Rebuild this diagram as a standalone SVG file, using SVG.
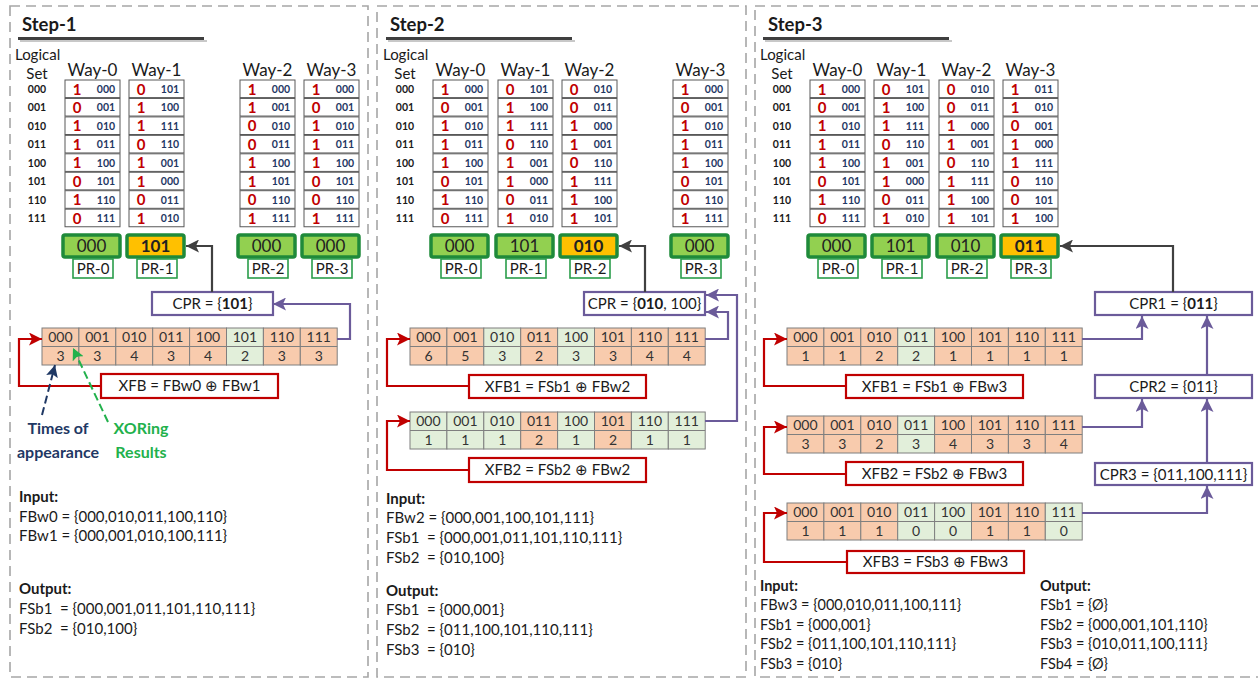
<svg xmlns="http://www.w3.org/2000/svg" xmlns:xlink="http://www.w3.org/1999/xlink" width="1258" height="679" viewBox="0 0 1258 679">
<style>
text { font-family: Lato, 'Noto Sans', sans-serif; fill:#1a1a1a; }
.pf { fill:none; stroke:#a6a6a6; stroke-width:1.6; stroke-dasharray:10 6; }
.ttl { font-size:18.5px; font-weight:bold; }
.lbl { font-size:15px; }
.way { font-size:17px; text-anchor:middle; }
.ls { font-size:10.5px; font-weight:bold; text-anchor:middle; }
.cell { fill:#fff; stroke:#595959; stroke-width:1; }
.b { font-size:15px; font-weight:bold; fill:#c00000; text-anchor:middle; }
.t { font-size:10.5px; font-weight:bold; fill:#1f3864; text-anchor:middle; }
.pr { fill:#92d050; stroke:#1f8a3a; stroke-width:3.5; }
.pry { fill:#ffc000; stroke:#1f8a3a; stroke-width:3.5; }
.prt { font-size:17px; text-anchor:middle; fill:#222; }
.prl { fill:#fff; stroke:#2a9d4a; stroke-width:1.6; }
.prlt { font-size:15px; text-anchor:middle; }
.o { fill:#f8cbad; stroke:#7f7f7f; stroke-width:1; }
.g { fill:#e2efda; stroke:#7f7f7f; stroke-width:1; }
.gl { stroke:#7f7f7f; stroke-width:1; }
.ct { font-size:14px; text-anchor:middle; fill:#333; }
.rb { fill:#fff; stroke:#c00000; stroke-width:2.2; }
.pb { fill:#fff; stroke:#6b5b9a; stroke-width:2.2; }
.bt { font-size:15px; text-anchor:middle; }
.io { font-size:15px; white-space:pre; }
.iob { font-size:15px; font-weight:bold; }
.io3 { font-size:14.5px; white-space:pre; }
.iob3 { font-size:14.5px; font-weight:bold; }
.nt { font-size:16px; font-weight:bold; text-anchor:middle; }
.cr { fill:none; stroke:#c00000; stroke-width:2.2; }
.cp { fill:none; stroke:#6b5b9a; stroke-width:2.2; }
.cg { fill:none; stroke:#404040; stroke-width:2.2; }
.ul { stroke:#3f3f3f; stroke-width:3; }
.uls { stroke:#c8c8c8; stroke-width:2; }
</style>
<defs>
<marker id="ar" viewBox="0 0 13 13" refX="13" refY="6.5" markerWidth="13" markerHeight="13" orient="auto" markerUnits="userSpaceOnUse"><path d="M0,0 L13,6.5 L0,13 L3,6.5 z" fill="#c00000"/></marker>
<marker id="ap" viewBox="0 0 13 13" refX="13" refY="6.5" markerWidth="13" markerHeight="13" orient="auto" markerUnits="userSpaceOnUse"><path d="M0,0 L13,6.5 L0,13 L3,6.5 z" fill="#6b5b9a"/></marker>
<marker id="ag" viewBox="0 0 13 13" refX="13" refY="6.5" markerWidth="13" markerHeight="13" orient="auto" markerUnits="userSpaceOnUse"><path d="M0,0 L13,6.5 L0,13 L3,6.5 z" fill="#404040"/></marker>
<marker id="an" viewBox="0 0 12 12" refX="12" refY="6" markerWidth="12" markerHeight="12" orient="auto" markerUnits="userSpaceOnUse"><path d="M0,0 L12,6 L0,12 L2.5,6 z" fill="#1f3864"/></marker>
<marker id="agr" viewBox="0 0 12 12" refX="12" refY="6" markerWidth="12" markerHeight="12" orient="auto" markerUnits="userSpaceOnUse"><path d="M0,0 L12,6 L0,12 L2.5,6 z" fill="#22b14c"/></marker>
<g id="colbox">
<rect class="cell" x="0" y="0" width="55" height="17.6"/>
<rect class="cell" x="0" y="18.45" width="55" height="17.6"/>
<rect class="cell" x="0" y="36.9" width="55" height="17.6"/>
<rect class="cell" x="0" y="55.35" width="55" height="17.6"/>
<rect class="cell" x="0" y="73.8" width="55" height="17.6"/>
<rect class="cell" x="0" y="92.25" width="55" height="17.6"/>
<rect class="cell" x="0" y="110.7" width="55" height="17.6"/>
<rect class="cell" x="0" y="129.15" width="55" height="17.6"/>
</g>
</defs>

<!-- panels -->
<g id="panels">
<rect class="pf" x="10" y="6" width="358" height="671"/>
<rect class="pf" x="377" y="6" width="369" height="671"/>
<rect class="pf" x="755" y="6" width="512" height="671"/>
</g>

<!-- titles -->
<g id="titles">
<line class="uls" x1="20" y1="41" x2="207" y2="41"/>
<line class="ul" x1="18" y1="38.5" x2="204" y2="38.5"/>
<text class="ttl" x="22" y="31">Step-1</text>
<line class="uls" x1="388" y1="41" x2="575" y2="41"/>
<line class="ul" x1="386" y1="38.5" x2="572" y2="38.5"/>
<text class="ttl" x="390" y="31">Step-2</text>
<line class="uls" x1="765" y1="41" x2="952" y2="41"/>
<line class="ul" x1="763" y1="38.5" x2="949" y2="38.5"/>
<text class="ttl" x="768" y="31">Step-3</text>
</g>

<!-- ================= STEP 1 ================= -->
<g id="s1-sets">
<text class="lbl" x="15" y="60">Logical</text>
<text class="lbl" x="37" y="79" text-anchor="middle">Set</text>
<text class="ls"><tspan x="37" y="93">000</tspan><tspan x="37" y="111.45">001</tspan><tspan x="37" y="129.9">010</tspan><tspan x="37" y="148.35">011</tspan><tspan x="37" y="166.8">100</tspan><tspan x="37" y="185.25">101</tspan><tspan x="37" y="203.7">110</tspan><tspan x="37" y="222.15">111</tspan></text>
</g>
<g id="s1-way0" transform="translate(65,80)">
<text class="way" x="27.5" y="-4">Way-0</text>
<use href="#colbox"/>
<text class="b"><tspan x="12" y="14.5">1</tspan><tspan x="12" y="32.95">0</tspan><tspan x="12" y="51.4">1</tspan><tspan x="12" y="69.85">1</tspan><tspan x="12" y="88.3">1</tspan><tspan x="12" y="106.75">0</tspan><tspan x="12" y="125.2">1</tspan><tspan x="12" y="143.65">0</tspan></text>
<text class="t"><tspan x="41" y="12.8">000</tspan><tspan x="41" y="31.25">001</tspan><tspan x="41" y="49.7">010</tspan><tspan x="41" y="68.15">011</tspan><tspan x="41" y="86.6">100</tspan><tspan x="41" y="105.05">101</tspan><tspan x="41" y="123.5">110</tspan><tspan x="41" y="141.95">111</tspan></text>
</g>
<g id="s1-way1" transform="translate(129,80)">
<text class="way" x="27.5" y="-4">Way-1</text>
<use href="#colbox"/>
<text class="b"><tspan x="12" y="14.5">0</tspan><tspan x="12" y="32.95">1</tspan><tspan x="12" y="51.4">1</tspan><tspan x="12" y="69.85">0</tspan><tspan x="12" y="88.3">1</tspan><tspan x="12" y="106.75">1</tspan><tspan x="12" y="125.2">0</tspan><tspan x="12" y="143.65">1</tspan></text>
<text class="t"><tspan x="41" y="12.8">101</tspan><tspan x="41" y="31.25">100</tspan><tspan x="41" y="49.7">111</tspan><tspan x="41" y="68.15">110</tspan><tspan x="41" y="86.6">001</tspan><tspan x="41" y="105.05">000</tspan><tspan x="41" y="123.5">011</tspan><tspan x="41" y="141.95">010</tspan></text>
</g>
<g id="s1-way2" transform="translate(240,80)">
<text class="way" x="27.5" y="-4">Way-2</text>
<use href="#colbox"/>
<text class="b"><tspan x="12" y="14.5">1</tspan><tspan x="12" y="32.95">1</tspan><tspan x="12" y="51.4">0</tspan><tspan x="12" y="69.85">0</tspan><tspan x="12" y="88.3">1</tspan><tspan x="12" y="106.75">1</tspan><tspan x="12" y="125.2">0</tspan><tspan x="12" y="143.65">1</tspan></text>
<text class="t"><tspan x="41" y="12.8">000</tspan><tspan x="41" y="31.25">001</tspan><tspan x="41" y="49.7">010</tspan><tspan x="41" y="68.15">011</tspan><tspan x="41" y="86.6">100</tspan><tspan x="41" y="105.05">101</tspan><tspan x="41" y="123.5">110</tspan><tspan x="41" y="141.95">111</tspan></text>
</g>
<g id="s1-way3" transform="translate(304,80)">
<text class="way" x="27.5" y="-4">Way-3</text>
<use href="#colbox"/>
<text class="b"><tspan x="12" y="14.5">1</tspan><tspan x="12" y="32.95">0</tspan><tspan x="12" y="51.4">1</tspan><tspan x="12" y="69.85">1</tspan><tspan x="12" y="88.3">1</tspan><tspan x="12" y="106.75">0</tspan><tspan x="12" y="125.2">0</tspan><tspan x="12" y="143.65">1</tspan></text>
<text class="t"><tspan x="41" y="12.8">000</tspan><tspan x="41" y="31.25">001</tspan><tspan x="41" y="49.7">010</tspan><tspan x="41" y="68.15">011</tspan><tspan x="41" y="86.6">100</tspan><tspan x="41" y="105.05">101</tspan><tspan x="41" y="123.5">110</tspan><tspan x="41" y="141.95">111</tspan></text>
</g>
<g id="s1-pr0"><rect class="pr" x="63" y="235" width="57" height="22" rx="2"/><text class="prt" x="91.5" y="252">000</text><rect class="prl" x="73" y="259" width="40" height="19"/><text class="prlt" x="93" y="274">PR-0</text></g>
<g id="s1-pr1"><rect class="pry" x="127" y="235" width="57" height="22" rx="2"/><text class="prt" x="155.5" y="252" font-weight="bold">101</text><rect class="prl" x="137" y="259" width="40" height="19"/><text class="prlt" x="157" y="274">PR-1</text></g>
<g id="s1-pr2"><rect class="pr" x="238" y="235" width="57" height="22" rx="2"/><text class="prt" x="266.5" y="252">000</text><rect class="prl" x="248" y="259" width="40" height="19"/><text class="prlt" x="268" y="274">PR-2</text></g>
<g id="s1-pr3"><rect class="pr" x="302" y="235" width="57" height="22" rx="2"/><text class="prt" x="330.5" y="252">000</text><rect class="prl" x="312" y="259" width="40" height="19"/><text class="prlt" x="332" y="274">PR-3</text></g>
<g id="s1-cpr"><rect class="pb" x="152" y="292" width="121" height="23"/><text class="bt" x="212.5" y="309">CPR = {<tspan font-weight="bold">101</tspan>}</text></g>
<g id="s1-table" transform="translate(42,328)">
<rect class="o" x="0" y="0" width="36.9" height="37"/><rect class="o" x="36.9" y="0" width="36.9" height="37"/><rect class="o" x="73.8" y="0" width="36.9" height="37"/><rect class="o" x="110.7" y="0" width="36.9" height="37"/><rect class="o" x="147.6" y="0" width="36.9" height="37"/><rect class="g" x="184.5" y="0" width="36.9" height="37"/><rect class="o" x="221.4" y="0" width="36.9" height="37"/><rect class="o" x="258.3" y="0" width="36.9" height="37"/>
<line class="gl" x1="0" y1="18.5" x2="295.2" y2="18.5"/>
<text class="ct"><tspan x="18.45" y="14">000</tspan><tspan x="55.35" y="14">001</tspan><tspan x="92.25" y="14">010</tspan><tspan x="129.15" y="14">011</tspan><tspan x="166.05" y="14">100</tspan><tspan x="202.95" y="14">101</tspan><tspan x="239.85" y="14">110</tspan><tspan x="276.75" y="14">111</tspan></text>
<text class="ct"><tspan x="18.45" y="32.5">3</tspan><tspan x="55.35" y="32.5">3</tspan><tspan x="92.25" y="32.5">4</tspan><tspan x="129.15" y="32.5">3</tspan><tspan x="166.05" y="32.5">4</tspan><tspan x="202.95" y="32.5">2</tspan><tspan x="239.85" y="32.5">3</tspan><tspan x="276.75" y="32.5">3</tspan></text>
</g>
<g id="s1-xfb"><rect class="rb" x="101" y="374" width="177" height="24"/><text class="bt" x="189.5" y="391">XFB = FBw0 ⊕ FBw1</text></g>
<g id="s1-notes">
<text class="nt" x="58" y="434" style="fill:#1f3864">Times of</text>
<text class="nt" x="58" y="458" style="fill:#1f3864">appearance</text>
<text class="nt" x="141" y="434" style="fill:#22b14c">XORing</text>
<text class="nt" x="141" y="458" style="fill:#22b14c">Results</text>
</g>
<g id="s1-io">
<text class="iob" x="19" y="502">Input:</text>
<text class="io" x="19" y="522">FBw0 = {000,010,011,100,110}</text>
<text class="io" x="19" y="541">FBw1 = {000,001,010,100,111}</text>
<text class="iob" x="19" y="594">Output:</text>
<text class="io" x="19" y="614">FSb1  = {000,001,011,101,110,111}</text>
<text class="io" x="19" y="634">FSb2  = {010,100}</text>
</g>

<!-- ================= STEP 2 ================= -->
<g id="s2-sets">
<text class="lbl" x="383" y="60">Logical</text>
<text class="lbl" x="405" y="79" text-anchor="middle">Set</text>
<text class="ls"><tspan x="405" y="93">000</tspan><tspan x="405" y="111.45">001</tspan><tspan x="405" y="129.9">010</tspan><tspan x="405" y="148.35">011</tspan><tspan x="405" y="166.8">100</tspan><tspan x="405" y="185.25">101</tspan><tspan x="405" y="203.7">110</tspan><tspan x="405" y="222.15">111</tspan></text>
</g>
<g id="s2-way0" transform="translate(433,80)">
<text class="way" x="27.5" y="-4">Way-0</text>
<use href="#colbox"/>
<text class="b"><tspan x="12" y="14.5">1</tspan><tspan x="12" y="32.95">0</tspan><tspan x="12" y="51.4">1</tspan><tspan x="12" y="69.85">1</tspan><tspan x="12" y="88.3">1</tspan><tspan x="12" y="106.75">0</tspan><tspan x="12" y="125.2">1</tspan><tspan x="12" y="143.65">0</tspan></text>
<text class="t"><tspan x="41" y="12.8">000</tspan><tspan x="41" y="31.25">001</tspan><tspan x="41" y="49.7">010</tspan><tspan x="41" y="68.15">011</tspan><tspan x="41" y="86.6">100</tspan><tspan x="41" y="105.05">101</tspan><tspan x="41" y="123.5">110</tspan><tspan x="41" y="141.95">111</tspan></text>
</g>
<g id="s2-way1" transform="translate(498,80)">
<text class="way" x="27.5" y="-4">Way-1</text>
<use href="#colbox"/>
<text class="b"><tspan x="12" y="14.5">0</tspan><tspan x="12" y="32.95">1</tspan><tspan x="12" y="51.4">1</tspan><tspan x="12" y="69.85">0</tspan><tspan x="12" y="88.3">1</tspan><tspan x="12" y="106.75">1</tspan><tspan x="12" y="125.2">0</tspan><tspan x="12" y="143.65">1</tspan></text>
<text class="t"><tspan x="41" y="12.8">101</tspan><tspan x="41" y="31.25">100</tspan><tspan x="41" y="49.7">111</tspan><tspan x="41" y="68.15">110</tspan><tspan x="41" y="86.6">001</tspan><tspan x="41" y="105.05">000</tspan><tspan x="41" y="123.5">011</tspan><tspan x="41" y="141.95">010</tspan></text>
</g>
<g id="s2-way2" transform="translate(562,80)">
<text class="way" x="27.5" y="-4">Way-2</text>
<use href="#colbox"/>
<text class="b"><tspan x="12" y="14.5">0</tspan><tspan x="12" y="32.95">0</tspan><tspan x="12" y="51.4">1</tspan><tspan x="12" y="69.85">1</tspan><tspan x="12" y="88.3">0</tspan><tspan x="12" y="106.75">1</tspan><tspan x="12" y="125.2">1</tspan><tspan x="12" y="143.65">1</tspan></text>
<text class="t"><tspan x="41" y="12.8">010</tspan><tspan x="41" y="31.25">011</tspan><tspan x="41" y="49.7">000</tspan><tspan x="41" y="68.15">001</tspan><tspan x="41" y="86.6">110</tspan><tspan x="41" y="105.05">111</tspan><tspan x="41" y="123.5">100</tspan><tspan x="41" y="141.95">101</tspan></text>
</g>
<g id="s2-way3" transform="translate(673,80)">
<text class="way" x="27.5" y="-4">Way-3</text>
<use href="#colbox"/>
<text class="b"><tspan x="12" y="14.5">1</tspan><tspan x="12" y="32.95">0</tspan><tspan x="12" y="51.4">1</tspan><tspan x="12" y="69.85">1</tspan><tspan x="12" y="88.3">1</tspan><tspan x="12" y="106.75">0</tspan><tspan x="12" y="125.2">0</tspan><tspan x="12" y="143.65">1</tspan></text>
<text class="t"><tspan x="41" y="12.8">000</tspan><tspan x="41" y="31.25">001</tspan><tspan x="41" y="49.7">010</tspan><tspan x="41" y="68.15">011</tspan><tspan x="41" y="86.6">100</tspan><tspan x="41" y="105.05">101</tspan><tspan x="41" y="123.5">110</tspan><tspan x="41" y="141.95">111</tspan></text>
</g>
<g id="s2-pr0"><rect class="pr" x="431" y="235" width="57" height="22" rx="2"/><text class="prt" x="459.5" y="252">000</text><rect class="prl" x="441" y="259" width="40" height="19"/><text class="prlt" x="461" y="274">PR-0</text></g>
<g id="s2-pr1"><rect class="pr" x="496" y="235" width="57" height="22" rx="2"/><text class="prt" x="524.5" y="252">101</text><rect class="prl" x="506" y="259" width="40" height="19"/><text class="prlt" x="526" y="274">PR-1</text></g>
<g id="s2-pr2"><rect class="pry" x="560" y="235" width="57" height="22" rx="2"/><text class="prt" x="588.5" y="252" font-weight="bold">010</text><rect class="prl" x="570" y="259" width="40" height="19"/><text class="prlt" x="590" y="274">PR-2</text></g>
<g id="s2-pr3"><rect class="pr" x="671" y="235" width="57" height="22" rx="2"/><text class="prt" x="699.5" y="252">000</text><rect class="prl" x="681" y="259" width="40" height="19"/><text class="prlt" x="701" y="274">PR-3</text></g>
<g id="s2-cpr"><rect class="pb" x="584" y="292" width="121" height="23"/><text class="bt" x="644.5" y="309">CPR = {<tspan font-weight="bold">010</tspan>, 100}</text></g>
<g id="s2-table1" transform="translate(410,328)">
<rect class="o" x="0" y="0" width="36.9" height="37"/><rect class="o" x="36.9" y="0" width="36.9" height="37"/><rect class="g" x="73.8" y="0" width="36.9" height="37"/><rect class="o" x="110.7" y="0" width="36.9" height="37"/><rect class="g" x="147.6" y="0" width="36.9" height="37"/><rect class="o" x="184.5" y="0" width="36.9" height="37"/><rect class="o" x="221.4" y="0" width="36.9" height="37"/><rect class="o" x="258.3" y="0" width="36.9" height="37"/>
<line class="gl" x1="0" y1="18.5" x2="295.2" y2="18.5"/>
<text class="ct"><tspan x="18.45" y="14">000</tspan><tspan x="55.35" y="14">001</tspan><tspan x="92.25" y="14">010</tspan><tspan x="129.15" y="14">011</tspan><tspan x="166.05" y="14">100</tspan><tspan x="202.95" y="14">101</tspan><tspan x="239.85" y="14">110</tspan><tspan x="276.75" y="14">111</tspan></text>
<text class="ct"><tspan x="18.45" y="32.5">6</tspan><tspan x="55.35" y="32.5">5</tspan><tspan x="92.25" y="32.5">3</tspan><tspan x="129.15" y="32.5">2</tspan><tspan x="166.05" y="32.5">3</tspan><tspan x="202.95" y="32.5">3</tspan><tspan x="239.85" y="32.5">4</tspan><tspan x="276.75" y="32.5">4</tspan></text>
</g>
<g id="s2-xfb1"><rect class="rb" x="469" y="375" width="177" height="23"/><text class="bt" x="557.5" y="391.5">XFB1 = FSb1 ⊕ FBw2</text></g>
<g id="s2-table2" transform="translate(410,412)">
<rect class="g" x="0" y="0" width="36.9" height="37"/><rect class="g" x="36.9" y="0" width="36.9" height="37"/><rect class="g" x="73.8" y="0" width="36.9" height="37"/><rect class="o" x="110.7" y="0" width="36.9" height="37"/><rect class="g" x="147.6" y="0" width="36.9" height="37"/><rect class="o" x="184.5" y="0" width="36.9" height="37"/><rect class="g" x="221.4" y="0" width="36.9" height="37"/><rect class="g" x="258.3" y="0" width="36.9" height="37"/>
<line class="gl" x1="0" y1="18.5" x2="295.2" y2="18.5"/>
<text class="ct"><tspan x="18.45" y="14">000</tspan><tspan x="55.35" y="14">001</tspan><tspan x="92.25" y="14">010</tspan><tspan x="129.15" y="14">011</tspan><tspan x="166.05" y="14">100</tspan><tspan x="202.95" y="14">101</tspan><tspan x="239.85" y="14">110</tspan><tspan x="276.75" y="14">111</tspan></text>
<text class="ct"><tspan x="18.45" y="32.5">1</tspan><tspan x="55.35" y="32.5">1</tspan><tspan x="92.25" y="32.5">1</tspan><tspan x="129.15" y="32.5">2</tspan><tspan x="166.05" y="32.5">1</tspan><tspan x="202.95" y="32.5">2</tspan><tspan x="239.85" y="32.5">1</tspan><tspan x="276.75" y="32.5">1</tspan></text>
</g>
<g id="s2-xfb2"><rect class="rb" x="469" y="458" width="177" height="24"/><text class="bt" x="557.5" y="475">XFB2 = FSb2 ⊕ FBw2</text></g>
<g id="s2-io">
<text class="iob" x="386" y="504">Input:</text>
<text class="io" x="386" y="523">FBw2 = {000,001,100,101,111}</text>
<text class="io" x="386" y="543">FSb1  = {000,001,011,101,110,111}</text>
<text class="io" x="386" y="563">FSb2  = {010,100}</text>
<text class="iob" x="386" y="596">Output:</text>
<text class="io" x="386" y="615">FSb1  = {000,001}</text>
<text class="io" x="386" y="635">FSb2  = {011,100,101,110,111}</text>
<text class="io" x="386" y="655">FSb3  = {010}</text>
</g>

<!-- ================= STEP 3 ================= -->
<g id="s3-sets">
<text class="lbl" x="760" y="60">Logical</text>
<text class="lbl" x="782" y="79" text-anchor="middle">Set</text>
<text class="ls"><tspan x="782" y="93">000</tspan><tspan x="782" y="111.45">001</tspan><tspan x="782" y="129.9">010</tspan><tspan x="782" y="148.35">011</tspan><tspan x="782" y="166.8">100</tspan><tspan x="782" y="185.25">101</tspan><tspan x="782" y="203.7">110</tspan><tspan x="782" y="222.15">111</tspan></text>
</g>
<g id="s3-way0" transform="translate(810,80)">
<text class="way" x="27.5" y="-4">Way-0</text>
<use href="#colbox"/>
<text class="b"><tspan x="12" y="14.5">1</tspan><tspan x="12" y="32.95">0</tspan><tspan x="12" y="51.4">1</tspan><tspan x="12" y="69.85">1</tspan><tspan x="12" y="88.3">1</tspan><tspan x="12" y="106.75">0</tspan><tspan x="12" y="125.2">1</tspan><tspan x="12" y="143.65">0</tspan></text>
<text class="t"><tspan x="41" y="12.8">000</tspan><tspan x="41" y="31.25">001</tspan><tspan x="41" y="49.7">010</tspan><tspan x="41" y="68.15">011</tspan><tspan x="41" y="86.6">100</tspan><tspan x="41" y="105.05">101</tspan><tspan x="41" y="123.5">110</tspan><tspan x="41" y="141.95">111</tspan></text>
</g>
<g id="s3-way1" transform="translate(874,80)">
<text class="way" x="27.5" y="-4">Way-1</text>
<use href="#colbox"/>
<text class="b"><tspan x="12" y="14.5">0</tspan><tspan x="12" y="32.95">1</tspan><tspan x="12" y="51.4">1</tspan><tspan x="12" y="69.85">0</tspan><tspan x="12" y="88.3">1</tspan><tspan x="12" y="106.75">1</tspan><tspan x="12" y="125.2">0</tspan><tspan x="12" y="143.65">1</tspan></text>
<text class="t"><tspan x="41" y="12.8">101</tspan><tspan x="41" y="31.25">100</tspan><tspan x="41" y="49.7">111</tspan><tspan x="41" y="68.15">110</tspan><tspan x="41" y="86.6">001</tspan><tspan x="41" y="105.05">000</tspan><tspan x="41" y="123.5">011</tspan><tspan x="41" y="141.95">010</tspan></text>
</g>
<g id="s3-way2" transform="translate(939,80)">
<text class="way" x="27.5" y="-4">Way-2</text>
<use href="#colbox"/>
<text class="b"><tspan x="12" y="14.5">0</tspan><tspan x="12" y="32.95">0</tspan><tspan x="12" y="51.4">1</tspan><tspan x="12" y="69.85">1</tspan><tspan x="12" y="88.3">0</tspan><tspan x="12" y="106.75">1</tspan><tspan x="12" y="125.2">1</tspan><tspan x="12" y="143.65">1</tspan></text>
<text class="t"><tspan x="41" y="12.8">010</tspan><tspan x="41" y="31.25">011</tspan><tspan x="41" y="49.7">000</tspan><tspan x="41" y="68.15">001</tspan><tspan x="41" y="86.6">110</tspan><tspan x="41" y="105.05">111</tspan><tspan x="41" y="123.5">100</tspan><tspan x="41" y="141.95">101</tspan></text>
</g>
<g id="s3-way3" transform="translate(1003,80)">
<text class="way" x="27.5" y="-4">Way-3</text>
<use href="#colbox"/>
<text class="b"><tspan x="12" y="14.5">1</tspan><tspan x="12" y="32.95">1</tspan><tspan x="12" y="51.4">0</tspan><tspan x="12" y="69.85">1</tspan><tspan x="12" y="88.3">1</tspan><tspan x="12" y="106.75">0</tspan><tspan x="12" y="125.2">0</tspan><tspan x="12" y="143.65">1</tspan></text>
<text class="t"><tspan x="41" y="12.8">011</tspan><tspan x="41" y="31.25">010</tspan><tspan x="41" y="49.7">001</tspan><tspan x="41" y="68.15">000</tspan><tspan x="41" y="86.6">111</tspan><tspan x="41" y="105.05">110</tspan><tspan x="41" y="123.5">101</tspan><tspan x="41" y="141.95">100</tspan></text>
</g>
<g id="s3-pr0"><rect class="pr" x="808" y="235" width="57" height="22" rx="2"/><text class="prt" x="836.5" y="252">000</text><rect class="prl" x="818" y="259" width="40" height="19"/><text class="prlt" x="838" y="274">PR-0</text></g>
<g id="s3-pr1"><rect class="pr" x="872" y="235" width="57" height="22" rx="2"/><text class="prt" x="900.5" y="252">101</text><rect class="prl" x="882" y="259" width="40" height="19"/><text class="prlt" x="902" y="274">PR-1</text></g>
<g id="s3-pr2"><rect class="pr" x="937" y="235" width="57" height="22" rx="2"/><text class="prt" x="965.5" y="252">010</text><rect class="prl" x="947" y="259" width="40" height="19"/><text class="prlt" x="967" y="274">PR-2</text></g>
<g id="s3-pr3"><rect class="pry" x="1001" y="235" width="57" height="22" rx="2"/><text class="prt" x="1029.5" y="252" font-weight="bold">011</text><rect class="prl" x="1011" y="259" width="40" height="19"/><text class="prlt" x="1031" y="274">PR-3</text></g>
<g id="s3-cpr1"><rect class="pb" x="1095" y="292" width="157" height="23"/><text class="bt" x="1173.5" y="309">CPR1 = {<tspan font-weight="bold">011</tspan>}</text></g>
<g id="s3-cpr2"><rect class="pb" x="1095" y="375" width="157" height="23"/><text class="bt" x="1173.5" y="392">CPR2 = {011}</text></g>
<g id="s3-cpr3"><rect class="pb" x="1095" y="463" width="157" height="22"/><text class="bt" x="1173.5" y="479.5">CPR3 = {011,100,111}</text></g>
<g id="s3-table1" transform="translate(787,328)">
<rect class="o" x="0" y="0" width="36.9" height="37"/><rect class="o" x="36.9" y="0" width="36.9" height="37"/><rect class="o" x="73.8" y="0" width="36.9" height="37"/><rect class="g" x="110.7" y="0" width="36.9" height="37"/><rect class="o" x="147.6" y="0" width="36.9" height="37"/><rect class="o" x="184.5" y="0" width="36.9" height="37"/><rect class="o" x="221.4" y="0" width="36.9" height="37"/><rect class="o" x="258.3" y="0" width="36.9" height="37"/>
<line class="gl" x1="0" y1="18.5" x2="295.2" y2="18.5"/>
<text class="ct"><tspan x="18.45" y="14">000</tspan><tspan x="55.35" y="14">001</tspan><tspan x="92.25" y="14">010</tspan><tspan x="129.15" y="14">011</tspan><tspan x="166.05" y="14">100</tspan><tspan x="202.95" y="14">101</tspan><tspan x="239.85" y="14">110</tspan><tspan x="276.75" y="14">111</tspan></text>
<text class="ct"><tspan x="18.45" y="32.5">1</tspan><tspan x="55.35" y="32.5">1</tspan><tspan x="92.25" y="32.5">2</tspan><tspan x="129.15" y="32.5">2</tspan><tspan x="166.05" y="32.5">1</tspan><tspan x="202.95" y="32.5">1</tspan><tspan x="239.85" y="32.5">1</tspan><tspan x="276.75" y="32.5">1</tspan></text>
</g>
<g id="s3-xfb1"><rect class="rb" x="846" y="375" width="177" height="23"/><text class="bt" x="934.5" y="391.5">XFB1 = FSb1 ⊕ FBw3</text></g>
<g id="s3-table2" transform="translate(787,416)">
<rect class="o" x="0" y="0" width="36.9" height="37"/><rect class="o" x="36.9" y="0" width="36.9" height="37"/><rect class="o" x="73.8" y="0" width="36.9" height="37"/><rect class="g" x="110.7" y="0" width="36.9" height="37"/><rect class="o" x="147.6" y="0" width="36.9" height="37"/><rect class="o" x="184.5" y="0" width="36.9" height="37"/><rect class="o" x="221.4" y="0" width="36.9" height="37"/><rect class="o" x="258.3" y="0" width="36.9" height="37"/>
<line class="gl" x1="0" y1="18.5" x2="295.2" y2="18.5"/>
<text class="ct"><tspan x="18.45" y="14">000</tspan><tspan x="55.35" y="14">001</tspan><tspan x="92.25" y="14">010</tspan><tspan x="129.15" y="14">011</tspan><tspan x="166.05" y="14">100</tspan><tspan x="202.95" y="14">101</tspan><tspan x="239.85" y="14">110</tspan><tspan x="276.75" y="14">111</tspan></text>
<text class="ct"><tspan x="18.45" y="32.5">3</tspan><tspan x="55.35" y="32.5">3</tspan><tspan x="92.25" y="32.5">2</tspan><tspan x="129.15" y="32.5">3</tspan><tspan x="166.05" y="32.5">4</tspan><tspan x="202.95" y="32.5">3</tspan><tspan x="239.85" y="32.5">3</tspan><tspan x="276.75" y="32.5">4</tspan></text>
</g>
<g id="s3-xfb2"><rect class="rb" x="846" y="462" width="177" height="23"/><text class="bt" x="934.5" y="478.5">XFB2 = FSb2 ⊕ FBw3</text></g>
<g id="s3-table3" transform="translate(787,503)">
<rect class="o" x="0" y="0" width="36.9" height="37"/><rect class="o" x="36.9" y="0" width="36.9" height="37"/><rect class="o" x="73.8" y="0" width="36.9" height="37"/><rect class="g" x="110.7" y="0" width="36.9" height="37"/><rect class="g" x="147.6" y="0" width="36.9" height="37"/><rect class="o" x="184.5" y="0" width="36.9" height="37"/><rect class="o" x="221.4" y="0" width="36.9" height="37"/><rect class="g" x="258.3" y="0" width="36.9" height="37"/>
<line class="gl" x1="0" y1="18.5" x2="295.2" y2="18.5"/>
<text class="ct"><tspan x="18.45" y="14">000</tspan><tspan x="55.35" y="14">001</tspan><tspan x="92.25" y="14">010</tspan><tspan x="129.15" y="14">011</tspan><tspan x="166.05" y="14">100</tspan><tspan x="202.95" y="14">101</tspan><tspan x="239.85" y="14">110</tspan><tspan x="276.75" y="14">111</tspan></text>
<text class="ct"><tspan x="18.45" y="32.5">1</tspan><tspan x="55.35" y="32.5">1</tspan><tspan x="92.25" y="32.5">1</tspan><tspan x="129.15" y="32.5">0</tspan><tspan x="166.05" y="32.5">0</tspan><tspan x="202.95" y="32.5">1</tspan><tspan x="239.85" y="32.5">1</tspan><tspan x="276.75" y="32.5">0</tspan></text>
</g>
<g id="s3-xfb3"><rect class="rb" x="847" y="551" width="177" height="22"/><text class="bt" x="935.5" y="567">XFB3 = FSb3 ⊕ FBw3</text></g>
<g id="s3-io">
<text class="iob3" x="760" y="591">Input:</text>
<text class="io3" x="760" y="610">FBw3 = {000,010,011,100,111}</text>
<text class="io3" x="760" y="630">FSb1 = {000,001}</text>
<text class="io3" x="760" y="649">FSb2 = {011,100,101,110,111}</text>
<text class="io3" x="760" y="669">FSb3 = {010}</text>
<text class="iob3" x="1040" y="591">Output:</text>
<text class="io3" x="1040" y="610">FSb1 = {Ø}</text>
<text class="io3" x="1040" y="630">FSb2 = {000,001,101,110}</text>
<text class="io3" x="1040" y="649">FSb3 = {010,011,100,111}</text>
<text class="io3" x="1040" y="669">FSb4 = {Ø}</text>
</g>

<!-- ================= CONNECTORS ================= -->
<g id="connectors">
<path class="cr" d="M101,386 H19 V339 H42" marker-end="url(#ar)"/>
<path class="cp" d="M337,339 H350 V304 H273" marker-end="url(#ap)"/>
<path class="cg" d="M212,292 V246 H186" marker-end="url(#ag)"/>
<path d="M42,415 L55,365" fill="none" stroke="#1f3864" stroke-width="2" stroke-dasharray="8 4" marker-end="url(#an)"/>
<path d="M108,422 L73,348" fill="none" stroke="#22b14c" stroke-width="2" stroke-dasharray="8 4" marker-end="url(#agr)"/>

<path class="cr" d="M469,386 H387 V339 H410" marker-end="url(#ar)"/>
<path class="cr" d="M469,470 H387 V421 H410" marker-end="url(#ar)"/>
<path class="cp" d="M705,339 H728 V312 H706" marker-end="url(#ap)"/>
<path class="cp" d="M705,421 H737 V295 H706" marker-end="url(#ap)"/>
<path class="cg" d="M645,292 V246 H619" marker-end="url(#ag)"/>

<path class="cr" d="M846,386 H764 V339 H787" marker-end="url(#ar)"/>
<path class="cr" d="M846,474 H764 V427 H787" marker-end="url(#ar)"/>
<path class="cr" d="M847,562 H764 V513 H787" marker-end="url(#ar)"/>
<path class="cp" d="M1082,339 H1142 V316" marker-end="url(#ap)"/>
<path class="cp" d="M1082,427 H1142 V399" marker-end="url(#ap)"/>
<path class="cp" d="M1082,513 H1207 V486" marker-end="url(#ap)"/>
<path class="cp" d="M1207,375 V316" marker-end="url(#ap)"/>
<path class="cp" d="M1207,463 V399" marker-end="url(#ap)"/>
<path class="cg" d="M1173,292 V246 H1060" marker-end="url(#ag)"/>
</g>
</svg>
